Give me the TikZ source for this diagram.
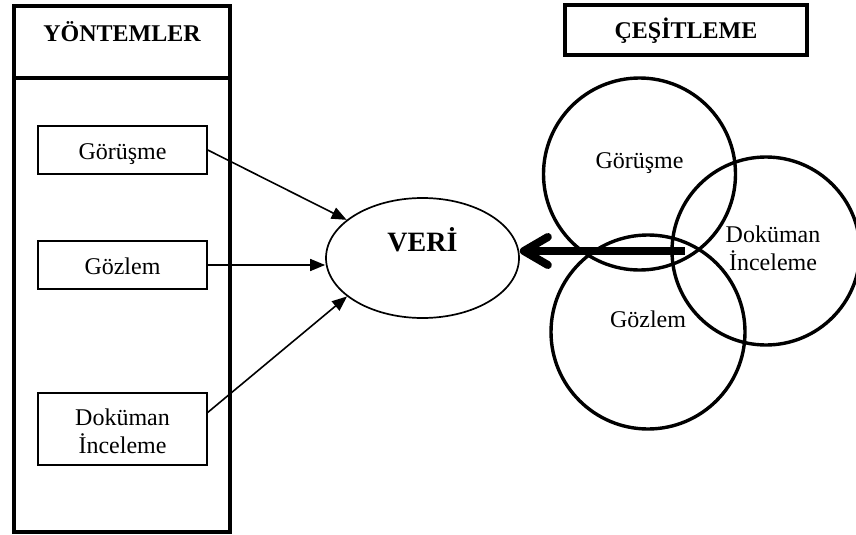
\documentclass[tikz,border=0pt]{standalone}
\usepackage{fontspec}
\setmainfont{Liberation Serif}
\usetikzlibrary{arrows.meta,shapes.geometric}
\begin{document}
\begin{tikzpicture}[x=0.5pt,y=-0.5pt,
  txt/.style={font=\fontsize{12}{14}\selectfont},
  bold/.style={font=\fontsize{12}{14}\selectfont\bfseries},
  framebox/.style={draw,line width=1.6pt,inner sep=0pt},
  methodbox/.style={txt,draw,line width=0.75pt,minimum width=84.5pt,inner sep=0pt,align=center},
  ring/.style={txt,draw,circle,line width=1.7pt,inner sep=0pt,align=center},
  feed/.style={line width=0.8pt,-{Triangle[length=7.5pt,width=6pt]}},
  bigarrow/.style={line width=4pt,-{Straight Barb[length=12pt,width=14pt,round]}}
]
\useasboundingbox (0,0) rectangle (856,535);

% methods column
\node[framebox,minimum width=108pt,minimum height=263pt] (methods) at (122,269) {};
\coordinate (divy) at (0,78);
\draw[line width=1.6pt] (methods.west |- divy) -- (methods.east |- divy);
\node[bold,anchor=base] (ytitle) at (122,42) {YÖNTEMLER};

\node[methodbox,minimum height=24pt,text height=9pt,text depth=0pt] (m1) at (122.5,150) {Görüşme};
\node[methodbox,minimum height=24pt,text height=9pt,text depth=0pt] (m2) at (122.5,265) {Gözlem};
\node[methodbox,minimum height=36pt,text height=26pt,text depth=2pt] (m3) at (122.5,429) {Doküman\\İnceleme};

% data
\node[draw,ellipse,line width=0.85pt,minimum width=96.5pt,minimum height=60pt,inner sep=0pt,
      font=\fontsize{14}{16}\selectfont\bfseries,text height=10pt,text depth=17pt] (veri) at (422.5,258) {VERİ};

\draw[feed] (m1.east) -- (veri);
\draw[feed] (m2.east) -- (m2.east -| veri.west);
\draw[feed] (m3.11) -- (veri.207);

% triangulation
\node[framebox,bold,minimum width=121pt,minimum height=25pt,text height=9pt,text depth=0pt] (ctitle) at (686,30) {ÇEŞİTLEME};

\node[ring,minimum size=96pt,text height=9pt,text depth=15pt] (c1) at (639.5,174) {Görüşme};
\node[ring,minimum size=97pt,text height=9pt,text depth=14pt] (c2) at (648,332) {Gözlem};
\node[ring,minimum size=94pt,text height=23pt,text depth=4pt] (c3) at (766,251)
  {\hspace*{7pt}Doküman\\\hspace*{7pt}İnceleme};

\coordinate (src) at (685,251);
\draw[bigarrow] (src) -- (src -| veri.east);
\end{tikzpicture}
\end{document}
